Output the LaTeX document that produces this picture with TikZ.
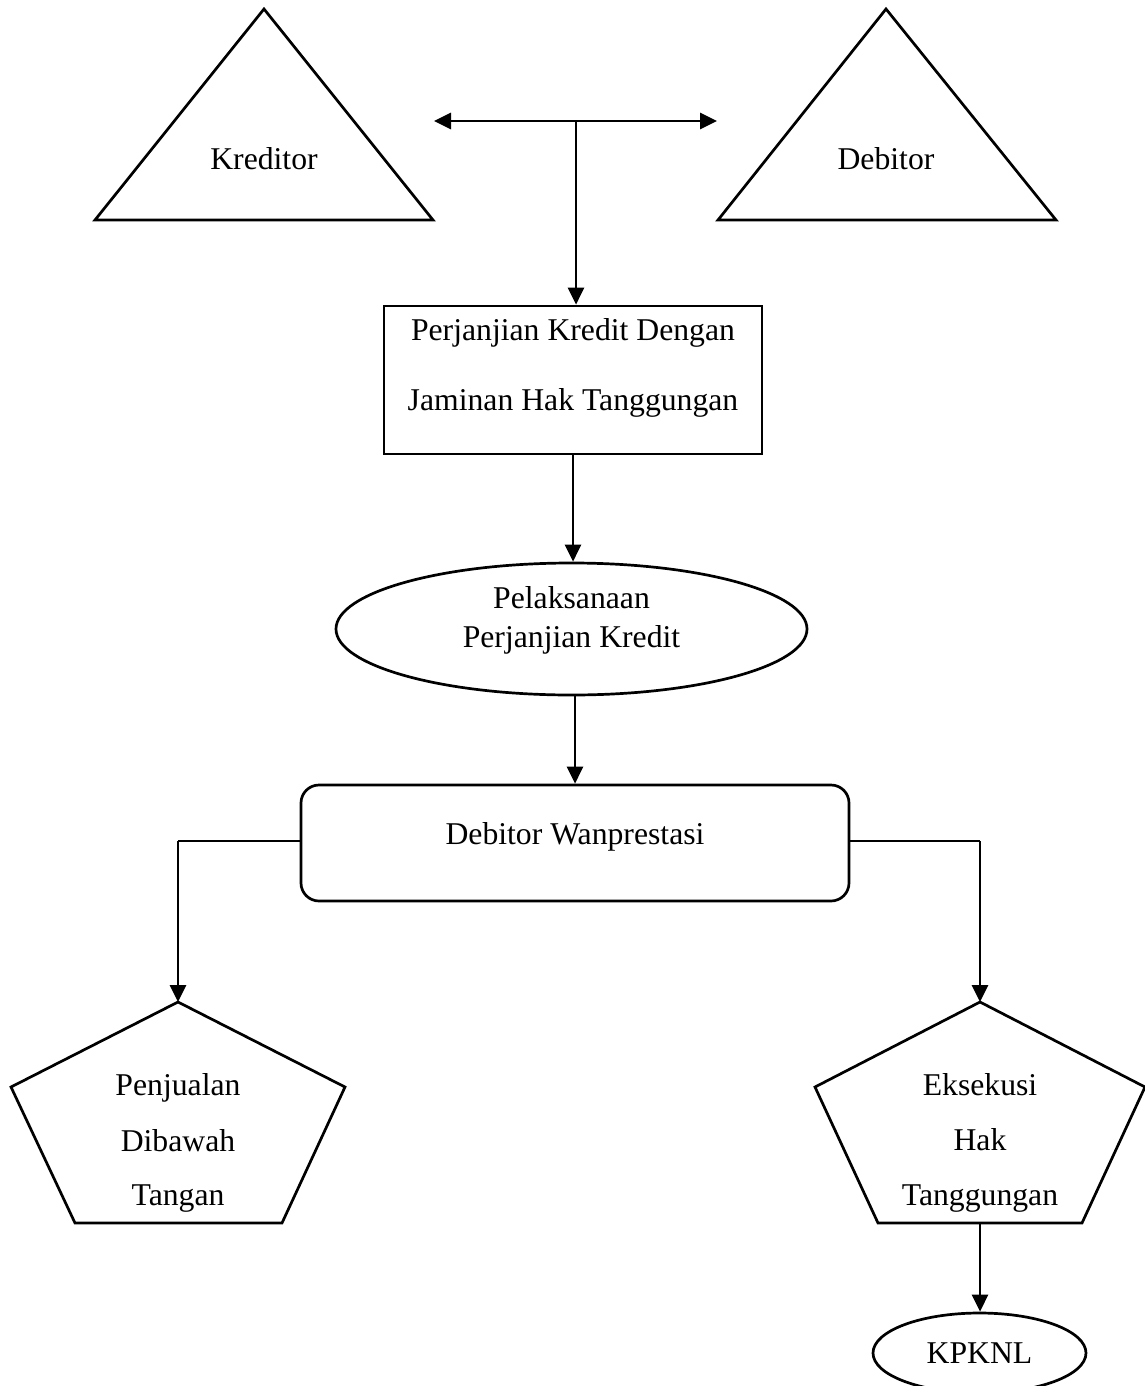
\documentclass[tikz,border=0pt]{standalone}
\usepackage{fontspec}
\setmainfont{Liberation Serif}
\usetikzlibrary{arrows.meta,shapes.geometric}
\begin{document}
\begin{tikzpicture}[x=1pt,y=-1pt,
  shapeline/.style={line width=2.7pt, line join=miter},
  thinline/.style={line width=1.2pt},
  arr/.style={line width=2.7pt,-{Triangle[length=17pt,width=16pt]}},
  dblarr/.style={line width=2.7pt,{Triangle[length=17pt,width=16pt]}-{Triangle[length=17pt,width=16pt]}},
  txt/.style={font=\fontsize{31.7}{36}\selectfont, inner sep=0pt, anchor=base},
  boxnode/.style={shapeline, draw, rectangle, inner sep=0pt, minimum width=378pt, minimum height=148pt},
  ellnode/.style={shapeline, draw, ellipse, inner sep=0pt},
  roundnode/.style={shapeline, draw, rectangle, rounded corners=18pt, inner sep=0pt, minimum width=548pt, minimum height=116pt}
]
\useasboundingbox (0,0) rectangle (1144,1386);

% Triangles
\draw[shapeline] (264,9) -- (95,220) -- (433,220) -- cycle;
\node[txt] (kreditor) at (264,169) {Kreditor};
\draw[shapeline] (886,9) -- (718,220) -- (1056,220) -- cycle;
\node[txt] (debitor) at (886,169) {Debitor};

% Top connector
\coordinate (hl) at (434,121);
\coordinate (hr) at (717,121);
\coordinate (hm) at (576,121);
\draw[dblarr] (hl) -- (hr);

% Agreement box
\node[boxnode] (pk) at (573,380) {};
\node[txt] (pk1) at (573,340) {Perjanjian Kredit Dengan};
\node[txt] (pk2) at (573,410) {Jaminan Hak Tanggungan};
\draw[arr] (hm) -- (hm |- pk.north);

% Ellipse
\node[ellnode, minimum width=471pt, minimum height=132pt] (pel) at (571.5,629) {};
\node[txt] (pel1) at (571.5,608) {Pelaksanaan};
\node[txt] (pel2) at (571.5,647) {Perjanjian Kredit};
\draw[arr] (pk.south) -- (pk.south |- pel.north);

% Rounded rectangle
\node[roundnode] (wp) at (575,843) {};
\node[txt] (wpt) at (575,844) {Debitor Wanprestasi};
\draw[arr] (wp.north |- pel.south) -- (wp.north);

% Pentagons
\coordinate (plA) at (178,1002);
\draw[shapeline] (plA) -- (11,1087) -- (75,1223) -- (282,1223) -- (345,1087) -- cycle;
\node[txt] (pl1) at (178,1095) {Penjualan};
\node[txt] (pl2) at (178,1151) {Dibawah};
\node[txt] (pl3) at (178,1205) {Tangan};

\coordinate (prA) at (980,1002);
\coordinate (prB) at (980,1223);
\draw[shapeline] (prA) -- (815,1087) -- (878,1223) -- (1082,1223) -- (1145,1087) -- cycle;
\node[txt] (pr1) at (980,1095) {Eksekusi};
\node[txt] (pr2) at (980,1150) {Hak};
\node[txt] (pr3) at (980,1205) {Tanggungan};

% Branch connectors
\coordinate (lc) at (178,841);
\coordinate (rc) at (980,841);
\draw[thinline] (wp.west |- lc) -- (lc);
\draw[arr] (lc) -- (plA);
\draw[thinline] (wp.east |- rc) -- (rc);
\draw[arr] (rc) -- (prA);

% KPKNL
\node[ellnode, minimum width=213pt, minimum height=80pt,
      font=\fontsize{31.7}{36}\selectfont] (kp) at (979.5,1353) {KPKNL};
\draw[arr] (prB) -- (prB |- kp.north);
\end{tikzpicture}
\end{document}
